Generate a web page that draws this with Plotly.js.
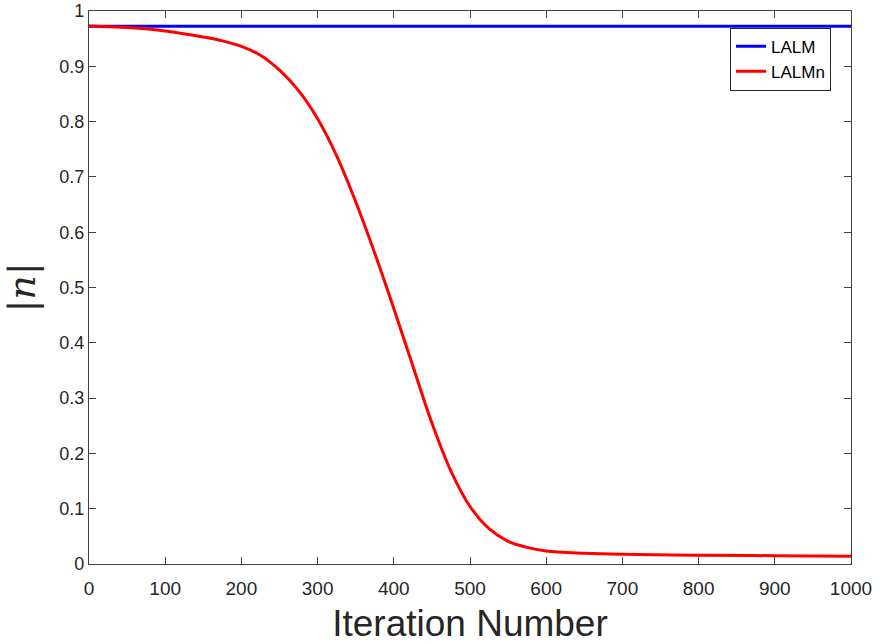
<!DOCTYPE html>
<html>
<head>
<meta charset="utf-8">
<script src="https://cdn.plot.ly/plotly-3.0.1.min.js"></script>
<style>
  html, body { margin: 0; padding: 0; background: #ffffff; }
  #chart { width: 880px; height: 644px; }
</style>
</head>
<body>
<div id="chart"></div>
<script>
// Iteration counts at which |n| was sampled
const iterLALM = [0, 1000];
const normLALM = [0.9725, 0.9725];

const iterLALMn = [0, 50, 100, 150, 175, 200, 225, 250, 275, 300, 325, 350, 375, 400, 425,
                   450, 475, 500, 525, 550, 575, 600, 650, 700, 800, 900, 1000];
const normLALMn = [0.973, 0.970, 0.964, 0.953, 0.946, 0.936, 0.920, 0.893, 0.856, 0.805,
                   0.738, 0.655, 0.562, 0.462, 0.358, 0.255, 0.168, 0.104, 0.064, 0.041,
                   0.030, 0.0235, 0.0195, 0.0175, 0.016, 0.015, 0.014];

const seriesNames = ['LALM', 'LALMn'];
const xTitle = 'Iteration Number';

const axisColor = '#404040';
const textColor = '#262626';
const fontFamily = '"Liberation Sans", Arial, Helvetica, sans-serif';

const traces = [
  {
    x: iterLALM, y: normLALM, name: seriesNames[0], type: 'scatter', mode: 'lines',
    line: { color: '#0000ff', width: 3 }
  },
  {
    x: iterLALMn, y: normLALMn, name: seriesNames[1], type: 'scatter', mode: 'lines',
    line: { color: '#ff0000', width: 3, shape: 'spline', smoothing: 1 }
  }
];

const layout = {
  width: 880,
  height: 644,
  margin: { l: 89, r: 29, t: 11, b: 80 },
  paper_bgcolor: '#ffffff',
  plot_bgcolor: '#ffffff',
  font: { family: fontFamily, size: 18, color: textColor },
  showlegend: true,
  legend: {
    x: 0.9738, xanchor: 'right', y: 0.97, yanchor: 'top',
    bgcolor: '#ffffff', bordercolor: textColor, borderwidth: 1,
    font: { family: fontFamily, size: 17, color: '#000000' },
    tracegroupgap: 0
  },
  xaxis: {
    range: [0, 1000], dtick: 100, tick0: 0,
    showgrid: false, zeroline: false,
    showline: true, linecolor: axisColor, linewidth: 1.2, mirror: 'ticks',
    ticks: 'inside', ticklen: 7, tickcolor: axisColor, tickwidth: 1,
    ticklabelstandoff: 7, ticklabeloverflow: 'allow',
    tickfont: { family: fontFamily, size: 19, color: textColor },
    title: { text: xTitle, font: { family: fontFamily, size: 37, color: textColor }, standoff: 27 }
  },
  yaxis: {
    range: [0, 1], dtick: 0.1, tick0: 0,
    showgrid: false, zeroline: false,
    showline: true, linecolor: axisColor, linewidth: 1.2, mirror: 'ticks',
    ticks: 'inside', ticklen: 7, tickcolor: axisColor, tickwidth: 1,
    ticklabeloverflow: 'allow',
    tickfont: { family: fontFamily, size: 18, color: textColor }
  },
  annotations: [
    {
      text: '|<i>n</i>|',
      xref: 'paper', yref: 'paper', x: 0, y: 0.5,
      xanchor: 'center', yanchor: 'middle', xshift: -68,
      textangle: -90, showarrow: false,
      font: { family: '"DejaVu Serif", "Liberation Serif", serif', size: 38, color: textColor }
    }
  ]
};

Plotly.newPlot('chart', traces, layout, { staticPlot: true, displayModeBar: false });
</script>
</body>
</html>
